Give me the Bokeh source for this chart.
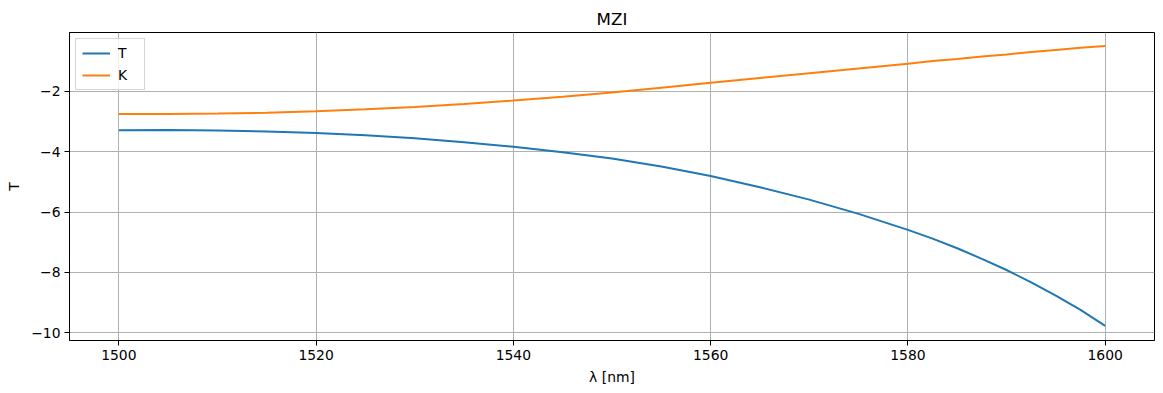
from bokeh.plotting import figure
from bokeh.models import Range1d, FixedTicker, Legend, LegendItem
from bokeh.embed import file_html
from bokeh.resources import INLINE

wavelength = [1500, 1505, 1510, 1515, 1520, 1525, 1530, 1535, 1540, 1545, 1550,
              1555, 1560, 1565, 1570, 1575, 1580, 1582.5, 1585, 1587.5, 1590,
              1592.5, 1595, 1597.5, 1600]
T_db = [-3.29, -3.28, -3.30, -3.33, -3.38, -3.46, -3.56, -3.69, -3.84, -4.02, -4.23,
        -4.49, -4.81, -5.18, -5.59, -6.06, -6.59, -6.88, -7.20, -7.55, -7.92,
        -8.33, -8.77, -9.24, -9.77]
K_db = [-2.75, -2.75, -2.74, -2.71, -2.66, -2.60, -2.52, -2.42, -2.31, -2.18, -2.04,
        -1.88, -1.72, -1.56, -1.40, -1.25, -1.09, -1.00, -0.93, -0.85, -0.78,
        -0.70, -0.63, -0.56, -0.50]

x_ticks = [1500, 1520, 1540, 1560, 1580, 1600]
y_ticks = [-10, -8, -6, -4, -2]
y_tick_labels = {-10: "\u221210", -8: "\u22128", -6: "\u22126", -4: "\u22124", -2: "\u22122"}

FONT = "DejaVu Sans"

p = figure(width=1163, height=390, output_backend="svg", toolbar_location=None,
           x_range=Range1d(1495, 1605), y_range=Range1d(-10.255, -0.054),
           min_border_left=69, min_border_right=9, min_border_top=32, min_border_bottom=50)

p.title.text = "MZI"
p.title.align = "center"
p.title.text_font = FONT
p.title.text_font_size = "16.7px"
p.title.text_font_style = "normal"
p.title.text_color = "black"
p.title.offset = 0
p.title.standoff = 8

r_t = p.line(wavelength, T_db, line_color="#1f77b4", line_width=2)
r_k = p.line(wavelength, K_db, line_color="#ff7f0e", line_width=2)

p.xaxis.ticker = FixedTicker(ticks=x_ticks)
p.yaxis.ticker = FixedTicker(ticks=y_ticks)
p.yaxis.major_label_overrides = y_tick_labels
p.xaxis.axis_label = "\u03bb [nm]"
p.yaxis.axis_label = "T"

for ax in (p.xaxis[0], p.yaxis[0]):
    ax.major_label_text_font = FONT
    ax.major_label_text_font_size = "13.9px"
    ax.major_label_text_color = "black"
    ax.axis_label_text_font = FONT
    ax.axis_label_text_font_size = "13.9px"
    ax.axis_label_text_font_style = "normal"
    ax.axis_label_text_color = "black"
    ax.minor_tick_line_color = None
    ax.major_tick_in = 0
    ax.major_tick_out = 5
    ax.major_tick_line_color = "black"
    ax.axis_line_color = "black"
    ax.major_label_standoff = 4
    ax.axis_label_standoff = 6

p.grid.grid_line_color = "#b0b0b0"
p.grid.grid_line_width = 1
p.outline_line_color = "black"
p.outline_line_width = 1
p.background_fill_color = "white"
p.border_fill_color = "white"

legend = Legend(items=[LegendItem(label="T", renderers=[r_t]),
                       LegendItem(label="K", renderers=[r_k])],
                location="top_left")
legend.margin = 6
legend.padding = 6
legend.spacing = 6
legend.glyph_height = 14
legend.label_height = 14
legend.glyph_width = 28
legend.label_standoff = 8
legend.label_text_font = FONT
legend.label_text_font_size = "13.9px"
legend.label_text_color = "black"
legend.border_line_color = "#cccccc"
legend.border_line_alpha = 0.8
legend.background_fill_alpha = 0.8
p.add_layout(legend)

open("out.html", "w").write(file_html(p, INLINE))
